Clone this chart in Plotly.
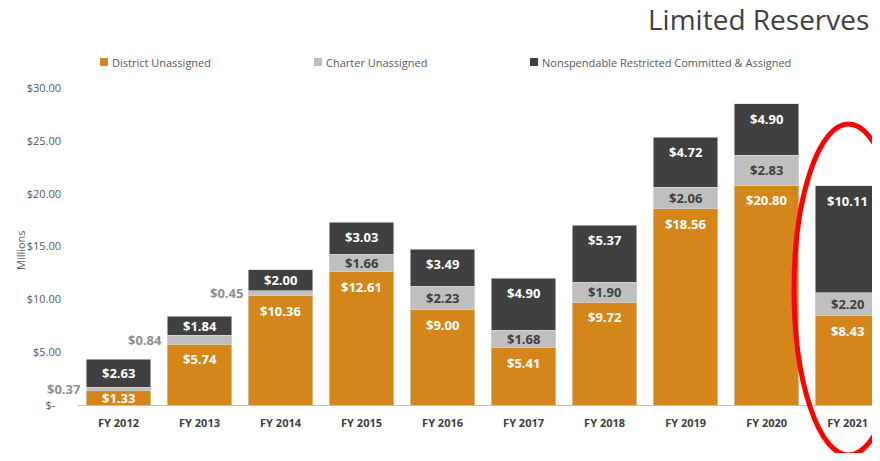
import plotly.graph_objects as go

categories = ["FY 2012", "FY 2013", "FY 2014", "FY 2015", "FY 2016",
              "FY 2017", "FY 2018", "FY 2019", "FY 2020", "FY 2021"]
district_unassigned = [1.33, 5.74, 10.36, 12.61, 9.00, 5.41, 9.72, 18.56, 20.80, 8.43]
charter_unassigned = [0.37, 0.84, 0.45, 1.66, 2.23, 1.68, 1.90, 2.06, 2.83, 2.20]
nonspendable = [2.63, 1.84, 2.00, 3.03, 3.49, 4.90, 5.37, 4.72, 4.90, 10.11]
series_names = ["District Unassigned", "Charter Unassigned",
                "Nonspendable Restricted Committed & Assigned"]
y_tick_vals = [0, 5, 10, 15, 20, 25, 30]
y_tick_text = ["$-\u00a0\u00a0", "$5.00", "$10.00", "$15.00", "$20.00", "$25.00", "$30.00"]

ORANGE = "#D4861A"
GRAY = "#BFBFBF"
DARK = "#404040"
FONT = "Open Sans"

# page body has an 8px margin; the figure is sized to fit the 880x461 window
OFF = 8
W, H = 880 - OFF, 461 - 2 * OFF
ML, MR, MT = 78 - OFF, 0, 88 - OFF
MB = H - (405 - OFF)
PW = W - ML - MR
PH = H - MT - MB
YMAX = 30.0

def px_x(p):
    return (p - OFF - ML) / PW

def px_y(p):
    return 1 - (p - OFF - MT) / PH

fig = go.Figure()
series = [district_unassigned, charter_unassigned, nonspendable]
colors = [ORANGE, GRAY, DARK]
for name, vals, col in zip(series_names, series, colors):
    fig.add_trace(go.Bar(
        x=categories, y=vals, name=name,
        marker=dict(color=col, line=dict(color="#d9d9d9", width=0.6)),
        showlegend=False, hoverinfo="skip",
    ))

# data labels
unit = YMAX / PH  # data units per pixel
annotations = []
for i, cat in enumerate(categories):
    base = 0.0
    for s, (vals, col) in enumerate(zip(series, colors)):
        v = vals[i]
        top = base + v
        if s == 1 and v < 1.0:
            annotations.append(dict(
                x=cat, y=base + v / 2, xref="x", yref="y",
                text="<b>$%.2f</b>" % v, showarrow=False,
                xanchor="right", yanchor="middle", xshift=-36, yshift=0,
                font=dict(family=FONT, size=13, color="#8F8F8F")))
        else:
            off = min(15 * unit, v / 2)
            tcol = DARK if s == 1 else "white"
            annotations.append(dict(
                x=cat, y=top - off, xref="x", yref="y",
                text="<b>$%.2f</b>" % v, showarrow=False,
                xanchor="center", yanchor="middle",
                font=dict(family=FONT, size=13, color=tcol)))
        base = top

# title
annotations.append(dict(
    x=px_x(646), y=px_y(19), xref="paper", yref="paper", text="Limited Reserves",
    showarrow=False, xanchor="left", yanchor="middle",
    font=dict(family=FONT, size=28, color=DARK)))

# legend (manual)
legend_x = [100, 314, 530]
shapes = []
for name, col, lx in zip(series_names, colors, legend_x):
    shapes.append(dict(type="rect", xref="paper", yref="paper",
                       x0=px_x(lx), x1=px_x(lx + 8), y0=px_y(66), y1=px_y(58),
                       fillcolor=col, line=dict(width=0)))
    annotations.append(dict(
        x=px_x(lx + 10), y=px_y(62), xref="paper", yref="paper", text=name,
        showarrow=False, xanchor="left", yanchor="middle",
        font=dict(family=FONT, size=11, color="#595959")))

# y-axis title
annotations.append(dict(
    x=px_x(20), y=px_y(250), xref="paper", yref="paper", text="Millions",
    showarrow=False, textangle=-90, xanchor="center", yanchor="middle",
    font=dict(family=FONT, size=11, color="#595959")))

# red ellipse highlight
shapes.append(dict(type="circle", xref="paper", yref="paper",
                   x0=px_x(794), x1=px_x(903), y0=px_y(455), y1=px_y(124),
                   line=dict(color="#FF0000", width=5)))

fig.update_layout(
    width=W, height=H,
    margin=dict(l=ML, r=MR, t=MT, b=MB),
    barmode="stack", bargap=0.2,
    plot_bgcolor="white", paper_bgcolor="white",
    annotations=annotations, shapes=shapes,
    showlegend=False,
    xaxis=dict(range=[-0.5, 9.4], showgrid=False, showline=True,
               linecolor="#BFBFBF", linewidth=1, ticks="",
               ticklabelstandoff=8,
               tickfont=dict(family=FONT, size=11, color=DARK, weight="bold")),
    yaxis=dict(range=[0, YMAX], showgrid=False, zeroline=False, showline=False,
               tickvals=y_tick_vals, ticktext=y_tick_text, ticks="",
               ticklabelstandoff=16,
               tickfont=dict(family=FONT, size=11, color="#595959")),
)

fig.write_html("out.html")
